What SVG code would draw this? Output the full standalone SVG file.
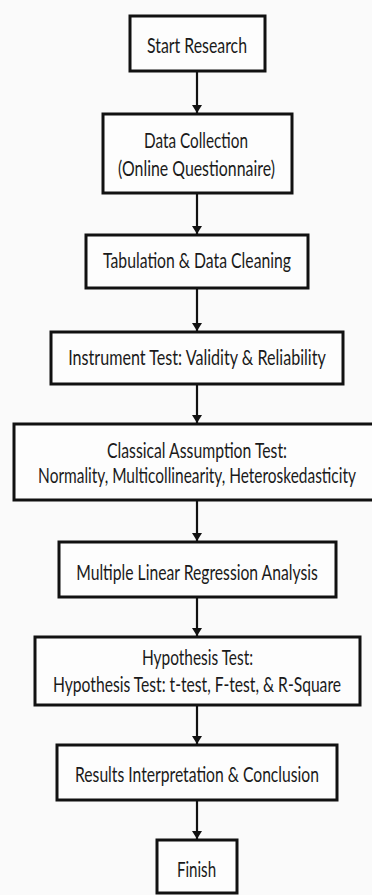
<svg xmlns="http://www.w3.org/2000/svg" width="372" height="895" viewBox="0 0 372 895">
<defs>
<marker id="ah" markerWidth="8" markerHeight="10" refX="8" refY="5" orient="auto" markerUnits="userSpaceOnUse">
<path d="M0,0 L8,5 L0,10 Z" fill="#111"/>
</marker>
<style>
.box{fill:#fdfdfd;stroke:#111;stroke-width:3}
.t{font-family:Lato,"Open Sans","Liberation Sans",sans-serif;font-size:21px;fill:#1a1a1a;text-anchor:middle}
.c{stroke:#111;stroke-width:2.2;fill:none;marker-end:url(#ah)}
</style>
</defs>
<rect width="372" height="895" fill="#fafafa"/>
<g id="connectors">
<line class="c" x1="197" y1="72" x2="197" y2="113"/>
<line class="c" x1="197" y1="194" x2="197" y2="234"/>
<line class="c" x1="197" y1="289" x2="197" y2="331"/>
<line class="c" x1="197" y1="385" x2="197" y2="423"/>
<line class="c" x1="197" y1="501" x2="197" y2="541"/>
<line class="c" x1="197" y1="598" x2="197" y2="636"/>
<line class="c" x1="197" y1="706" x2="197" y2="744"/>
<line class="c" x1="197" y1="801" x2="197" y2="839"/>
</g>
<g id="n1"><rect class="box" x="130" y="16" width="135" height="55"/><text class="t" transform="translate(197 53) scale(0.8 1)" textLength="125" lengthAdjust="spacingAndGlyphs">Start Research</text></g>
<g id="n2"><rect class="box" x="103" y="114" width="189" height="79"/><text class="t" transform="translate(196 148) scale(0.8 1)" textLength="130" lengthAdjust="spacingAndGlyphs">Data Collection</text><text class="t" transform="translate(196.5 176) scale(0.8 1)" textLength="196" lengthAdjust="spacingAndGlyphs">(Online Questionnaire)</text></g>
<g id="n3"><rect class="box" x="86" y="235" width="222" height="53"/><text class="t" transform="translate(197 268) scale(0.8 1)" textLength="235" lengthAdjust="spacingAndGlyphs">Tabulation &amp; Data Cleaning</text></g>
<g id="n4"><rect class="box" x="51" y="332" width="292" height="52"/><text class="t" transform="translate(197 365) scale(0.8 1)" textLength="322" lengthAdjust="spacingAndGlyphs">Instrument Test: Validity &amp; Reliability</text></g>
<g id="n5"><rect class="box" x="14" y="424" width="362" height="76"/><text class="t" transform="translate(197 458) scale(0.8 1)" textLength="225" lengthAdjust="spacingAndGlyphs">Classical Assumption Test:</text><text class="t" transform="translate(197 483) scale(0.7 1)" textLength="454" lengthAdjust="spacingAndGlyphs">Normality, Multicollinearity, Heteroskedasticity</text></g>
<g id="n6"><rect class="box" x="59" y="542" width="277" height="55"/><text class="t" transform="translate(197 580) scale(0.8 1)" textLength="302" lengthAdjust="spacingAndGlyphs">Multiple Linear Regression Analysis</text></g>
<g id="n7"><rect class="box" x="35" y="637" width="325" height="68"/><text class="t" transform="translate(197.5 665) scale(0.8 1)" textLength="139" lengthAdjust="spacingAndGlyphs">Hypothesis Test:</text><text class="t" transform="translate(197 692) scale(0.8 1)" textLength="360" lengthAdjust="spacingAndGlyphs">Hypothesis Test: t-test, F-test, &amp; R-Square</text></g>
<g id="n8"><rect class="box" x="57" y="745" width="280" height="55"/><text class="t" transform="translate(197 782) scale(0.8 1)" textLength="305" lengthAdjust="spacingAndGlyphs">Results Interpretation &amp; Conclusion</text></g>
<g id="n9"><rect class="box" x="157" y="840" width="80" height="53"/><text class="t" transform="translate(196.5 877) scale(0.8 1)" textLength="49" lengthAdjust="spacingAndGlyphs">Finish</text></g>
</svg>
